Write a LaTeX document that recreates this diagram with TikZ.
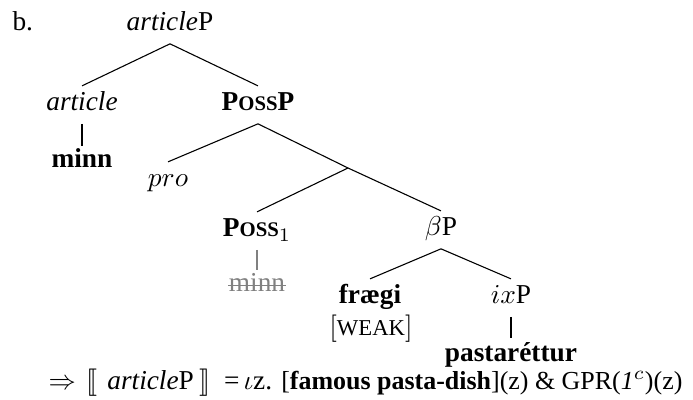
\documentclass[tikz,border=0pt]{standalone}
\usepackage{fontspec}
\setmainfont{Liberation Serif}
\usepackage{stmaryrd}
\usetikzlibrary{positioning}
\newcommand{\fsc}[2][7.6]{{\fontsize{#1}{9}\selectfont #2}}

\begin{document}
\begin{tikzpicture}[x=0.366pt, y=-0.366pt,
  lbl/.style={anchor=base, inner xsep=1pt, inner ysep=2pt, text height=7pt, text depth=2.5pt},
  low/.style={lbl, text height=6pt},
  struck/.style={low, inner xsep=0pt, text=gray}]
\useasboundingbox (0,0) rectangle (693,400);

\node[anchor=base west, inner sep=0pt] (ex) at (12,31) {b.};
\node[lbl] (artP) at (170,31) {\textit{article}P};
\node[lbl] (art) at (82,111) {\textit{article}};
\node[lbl] (possP) at (258,111) {\textbf{P\fsc{OSS}P}};
\node[low] (minn) at (82,168) {\textbf{minn}};
\node[lbl] (pro) at (168,187) {$pro$};
\coordinate (bar) at (348,168);
\node[lbl] (poss) at (257,237) {\textbf{P\fsc{OSS}}$_1$};
\node[struck] (strk) at (257,292) {minn};
\node[lbl] (betaP) at (441,236) {$\beta$P};
\node[lbl] (fraegi) at (370,304) {\textbf{frægi}};
\node[lbl] (weak) at (371,336) {$[$\fsc[8.3]{WEAK}$]$};
\node[lbl] (ixP) at (511,304) {$ix$P};
\node[lbl, text height=6.5pt, text depth=1.5pt] (pasta) at (511,362) {\textbf{pastaréttur}};

\draw (artP.south) -- (art.north);
\draw (artP.south) -- (possP.north);
\draw (art.south) -- (minn.north);
\draw (possP.south) -- (pro.north);
\draw (possP.south) -- (bar);
\draw (bar) -- (poss.north);
\draw (bar) -- (betaP.north);
\draw[gray] (poss.south) -- (strk.north);
\draw[gray, line width=0.5pt] ([yshift=2.3pt]strk.base west) -- ([yshift=2.3pt]strk.base east);
\draw (betaP.south) -- (fraegi.north);
\draw (betaP.south) -- (ixP.north);
\draw (ixP.south) -- (pasta.north);

\node[anchor=base west, inner sep=0pt] (sem) at (48,390)
  {$\Rightarrow$\hspace{4pt}$\llbracket$\hspace{3.5pt}\textit{article}P\hspace{2pt}$\rrbracket$\hspace{5pt}=\hspace{1.5pt}$\iota$z.
   {\fontsize{9.5}{12}\selectfont[\textbf{famous pasta-dish}](z) \& GPR(\textit{1}$^c$)(z)}};
\end{tikzpicture}
\end{document}
